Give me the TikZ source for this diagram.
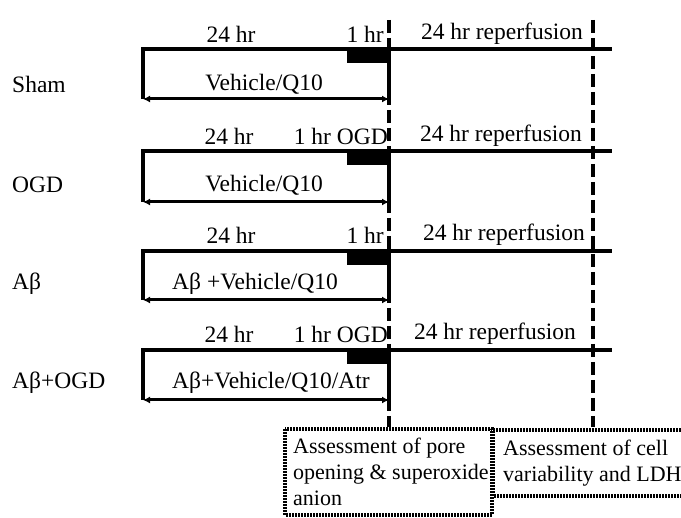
\documentclass[tikz,border=0pt]{standalone}
\usepackage{fontspec}
\setmainfont{Liberation Serif}
\usetikzlibrary{arrows.meta}

\begin{document}
\begin{tikzpicture}[x=1pt, y=-1pt,
    lbl/.style={font=\fontsize{23.5}{25}\selectfont, inner sep=0pt},
    boxtxt/.style={font=\fontsize{22}{26}\selectfont, inner sep=0pt, align=left, anchor=north west},
    tline/.style={line width=3.5pt},
    span/.style={line width=3pt, {Latex[length=7pt,width=7pt]}-{Latex[length=7pt,width=7pt]}},
    sep/.style={line width=3.5pt, dash pattern=on 13pt off 5pt},
    frame/.style={line width=3.5pt, dash pattern=on 2pt off 1pt}]
    \useasboundingbox (0,0) rectangle (681,518);

    \coordinate (sepA0) at (389, 20);
    \coordinate (sepA1) at (389, 427);
    \coordinate (sepB0) at (593, 20);
    \coordinate (sepB1) at (593, 427);
    \draw[sep] (sepA0) -- (sepA1);
    \draw[sep] (sepB0) -- (sepB1);

    % Sham
    \coordinate (r1s) at (143, 49);
    \coordinate (r1m) at (389, 49);
    \coordinate (r1e) at (612, 49);
    \coordinate (r1a) at (143, 99);
    \coordinate (r1b) at (389, 99);
    \draw[tline] (r1a) -- (r1s) -- (r1e);
    \draw[tline] (r1m) -- (r1b);
    \fill (347, 49) rectangle (389, 63);
    \draw[span] (r1a) -- (r1b);
    \node[lbl] (r1pre) at (231, 34) {24 hr};
    \node[lbl, anchor=east] (r1ogd) at (384, 34) {1 hr};
    \node[lbl] (r1rep) at (502, 34) {24 hr reperfusion};
    \node[lbl, anchor=west] (sham) at (12, 84) {Sham};
    \node[lbl] (r1drug) at (264, 84) {Vehicle/Q10};

    % OGD
    \coordinate (r2s) at (143, 151);
    \coordinate (r2m) at (389, 151);
    \coordinate (r2e) at (612, 151);
    \coordinate (r2a) at (143, 202);
    \coordinate (r2b) at (389, 202);
    \draw[tline] (r2a) -- (r2s) -- (r2e);
    \draw[tline] (r2m) -- (r2b);
    \fill (347, 151) rectangle (389, 165);
    \draw[span] (r2a) -- (r2b);
    \node[lbl] (r2pre) at (229, 136) {24 hr};
    \node[lbl, anchor=east] (r2ogd) at (388, 136) {1 hr OGD};
    \node[lbl] (r2rep) at (501, 136) {24 hr reperfusion};
    \node[lbl, anchor=west] (ogd) at (12, 185) {OGD};
    \node[lbl] (r2drug) at (264, 185) {Vehicle/Q10};

    % Abeta
    \coordinate (r3s) at (143, 251);
    \coordinate (r3m) at (389, 251);
    \coordinate (r3e) at (612, 251);
    \coordinate (r3a) at (143, 300);
    \coordinate (r3b) at (389, 300);
    \draw[tline] (r3a) -- (r3s) -- (r3e);
    \draw[tline] (r3m) -- (r3b);
    \fill (347, 251) rectangle (389, 265);
    \draw[span] (r3a) -- (r3b);
    \node[lbl] (r3pre) at (231, 235) {24 hr};
    \node[lbl, anchor=east] (r3ogd) at (384, 235) {1 hr};
    \node[lbl] (r3rep) at (504, 235) {24 hr reperfusion};
    \node[lbl, anchor=west] (ab) at (12, 284) {Aβ};
    \node[lbl, anchor=west] (r3drug) at (172, 284) {Aβ +Vehicle/Q10};

    % Abeta + OGD
    \coordinate (r4s) at (143, 350);
    \coordinate (r4m) at (389, 350);
    \coordinate (r4e) at (612, 350);
    \coordinate (r4a) at (143, 400);
    \coordinate (r4b) at (389, 400);
    \draw[tline] (r4a) -- (r4s) -- (r4e);
    \draw[tline] (r4m) -- (r4b);
    \fill (347, 350) rectangle (389, 364);
    \draw[span] (r4a) -- (r4b);
    \node[lbl] (r4pre) at (229, 334) {24 hr};
    \node[lbl, anchor=east] (r4ogd) at (388, 334) {1 hr OGD};
    \node[lbl] (r4rep) at (495, 334) {24 hr reperfusion};
    \node[lbl, anchor=west] (abogd) at (12, 383) {Aβ+OGD};
    \node[lbl, anchor=west] (r4drug) at (172, 383) {Aβ+Vehicle/Q10/Atr};

    % assessments
    \draw[frame] (285, 429) rectangle (492, 515);
    \draw[frame] (681, 430) -- (493, 430) -- (493, 496) -- (681, 496);
    \node[boxtxt] (pore) at (293, 438) {Assessment of pore\\opening \& superoxide\\anion};
    \node[boxtxt] (cell) at (503, 440) {Assessment of cell\\variability and LDH};
\end{tikzpicture}
\end{document}
